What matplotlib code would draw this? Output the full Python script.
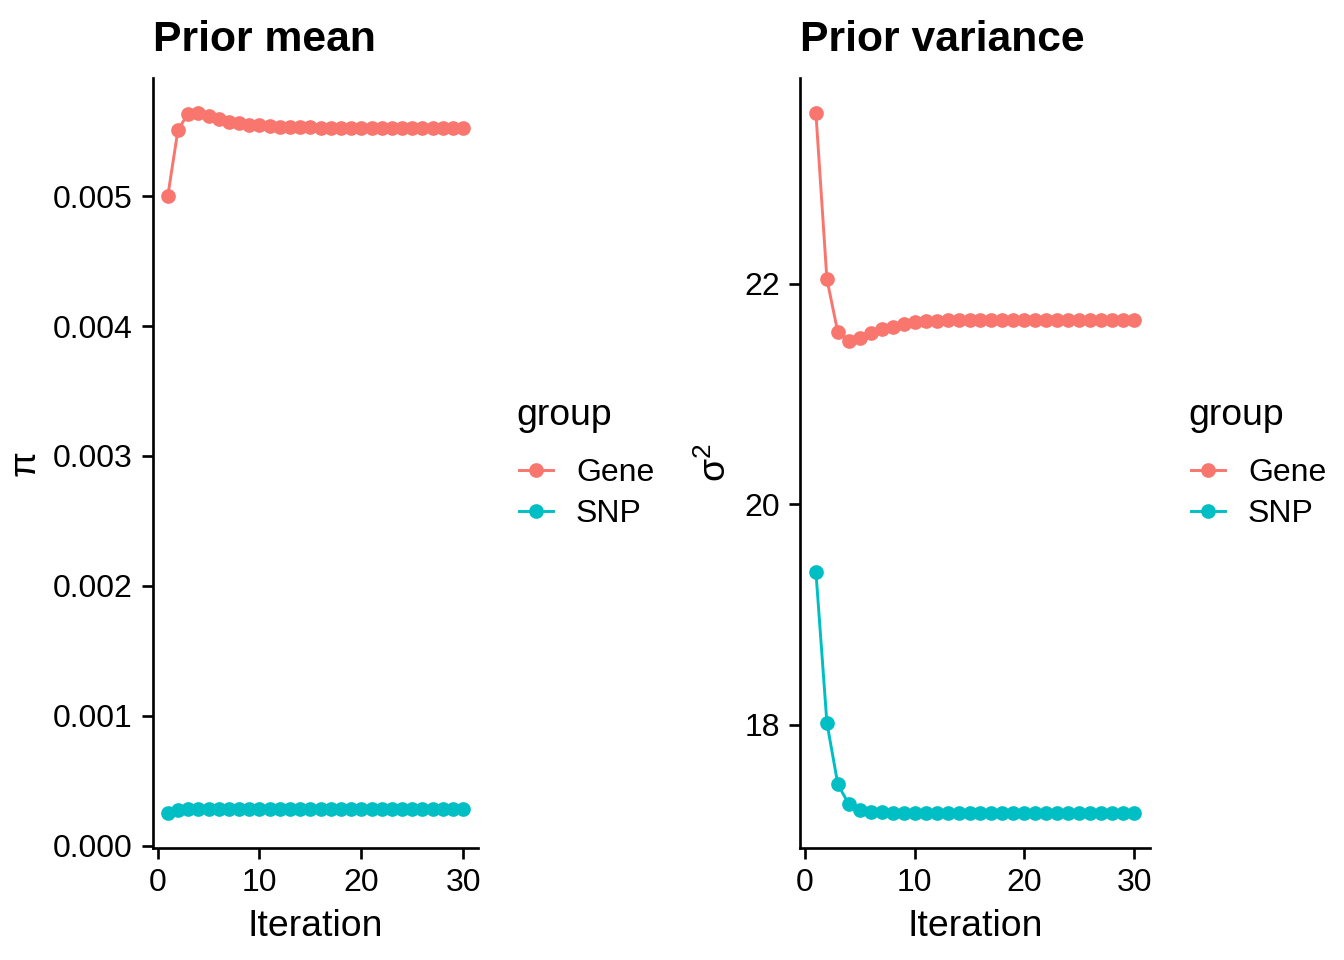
import numpy as np
import matplotlib as mpl
import matplotlib.pyplot as plt
from matplotlib.lines import Line2D

mpl.rcParams['font.family'] = ['Liberation Sans', 'DejaVu Sans']
mpl.rcParams['mathtext.fontset'] = 'custom'
mpl.rcParams['mathtext.rm'] = 'Liberation Sans'

# Data
iteration = np.arange(1, 31)

pi_gene = [0.00500, 0.00551, 0.005635, 0.00564, 0.00562, 0.00559, 0.00557, 0.00556,
           0.00555, 0.005545, 0.00554, 0.005535, 0.005532, 0.00553, 0.00553, 0.005528,
           0.005528, 0.005527, 0.005527, 0.005527, 0.005527, 0.005527, 0.005527, 0.005527,
           0.005527, 0.005527, 0.005527, 0.005527, 0.005527, 0.005527]
pi_snp = [0.000251, 0.000271, 0.000282, 0.000284, 0.000284, 0.000284, 0.000284, 0.000284,
          0.000284, 0.000284, 0.000284, 0.000284, 0.000284, 0.000284, 0.000284, 0.000284,
          0.000284, 0.000284, 0.000284, 0.000284, 0.000284, 0.000284, 0.000284, 0.000284,
          0.000284, 0.000284, 0.000284, 0.000284, 0.000284, 0.000284]

sigma2_gene = [23.55, 22.045, 21.56, 21.48, 21.51, 21.55, 21.59, 21.61, 21.635, 21.65,
               21.66, 21.665, 21.67, 21.672, 21.673, 21.674, 21.674, 21.675, 21.675, 21.675,
               21.675, 21.675, 21.675, 21.675, 21.675, 21.675, 21.675, 21.675, 21.675, 21.675]
sigma2_snp = [19.39, 18.02, 17.46, 17.28, 17.23, 17.21, 17.205, 17.20, 17.20, 17.20,
              17.20, 17.20, 17.20, 17.20, 17.20, 17.20, 17.20, 17.20, 17.20, 17.20,
              17.20, 17.20, 17.20, 17.20, 17.20, 17.20, 17.20, 17.20, 17.20, 17.20]

groups = ['Gene', 'SNP']
colors = ['#F8766D', '#00BFC4']

W, H = 1344, 960
fig = plt.figure(figsize=(7, 5), dpi=192)


def px_axes(x0, y0, x1, y1):
    return fig.add_axes([x0 / W, 1 - y1 / H, (x1 - x0) / W, (y1 - y0) / H])


def style(ax):
    for side in ['top', 'right']:
        ax.spines[side].set_visible(False)
    for side in ['left', 'bottom']:
        ax.spines[side].set_linewidth(1.0)
    ax.tick_params(direction='out', length=4, width=1.0, labelsize=12, colors='black')
    ax.margins(x=0.05, y=0.05)
    ax.set_xticks([0, 10, 20, 30])
    ax.set_xlabel('Iteration', fontsize=14, labelpad=4)


def add_legend(x, y):
    # title drawn separately so its gap to the keys matches ggplot
    fig.text(x / W, 1 - 415 / H, 'group', fontsize=14, ha='left', va='center')
    handles = [Line2D([0], [0], color=c, marker='o', markersize=4.5, linewidth=1.1)
               for c in colors]
    fig.legend(handles, groups, loc='center left',
               bbox_to_anchor=((x + 3) / W, 1 - y / H), bbox_transform=fig.transFigure,
               frameon=False, fontsize=12, borderpad=0, borderaxespad=0,
               handlelength=1.06, handletextpad=0.72, labelspacing=0.36)


# Left panel: prior mean
ax1 = px_axes(153, 78, 478, 848)
for vals, c in zip([pi_gene, pi_snp], colors):
    ax1.plot(iteration, vals, color=c, marker='o', markersize=4.5, linewidth=1.1)
style(ax1)
ax1.set_yticks([0, 0.001, 0.002, 0.003, 0.004, 0.005])
ax1.set_yticklabels(['0.000', '0.001', '0.002', '0.003', '0.004', '0.005'])
ax1.set_ylabel('π', fontsize=14)
ax1.set_title('Prior mean', loc='left', fontsize=16, fontweight='bold', pad=10, x=0.0)
add_legend(516, 493.5)

# Right panel: prior variance
ax2 = px_axes(800, 78, 1150, 848)
for vals, c in zip([sigma2_gene, sigma2_snp], colors):
    ax2.plot(iteration, vals, color=c, marker='o', markersize=4.5, linewidth=1.1)
style(ax2)
ax2.set_yticks([18, 20, 22])
ax2.set_ylabel('σ$^{2}$', fontsize=14)
ax2.set_title('Prior variance', loc='left', fontsize=16, fontweight='bold', pad=10, x=0.0)
add_legend(1188, 493.5)

fig.savefig('out.png', dpi=192)
